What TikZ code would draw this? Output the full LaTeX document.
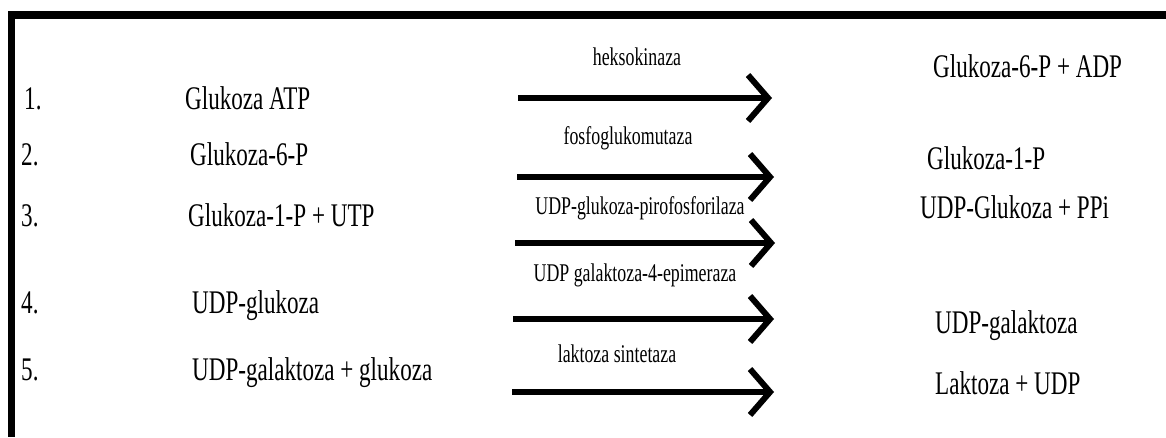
\documentclass[tikz,border=0pt]{standalone}
\usepackage{fontspec}
\setmainfont[FakeStretch=0.7]{Liberation Serif}
\usetikzlibrary{arrows.meta}
\tikzset{
  main/.style={inner sep=0pt, anchor=base west, font=\fontsize{33}{36}\selectfont},
  num/.style={inner sep=0pt, anchor=base west, font=\fontsize{33}{36}\selectfont},
  enz/.style={inner sep=0pt, anchor=base, font=\fontsize{25.5}{28}\selectfont},
  rxn/.style={line width=6pt, -{Straight Barb[length=20pt,width=46pt,line width=6pt]}},
}
\begin{document}
\begin{tikzpicture}[x=1pt,y=-1pt]
\useasboundingbox (0,0) rectangle (1166,437);
\fill (8,11) rectangle (1166,19);
\fill (8,11) rectangle (15,437);
% row 1
\node[num]  (n1) at (24,109) {1.};
\node[main] (r1) at (185,109) {Glukoza ATP};
\node[enz]  (e1) at (637,65) {heksokinaza};
\node[main] (p1) at (933,77) {Glukoza-6-P + ADP};
\coordinate (s1) at (518,98);
\coordinate (t1) at (772,98);
\draw[rxn] (s1) -- (t1);
% row 2
\node[num]  (n2) at (21,165) {2.};
\node[main] (r2) at (190,165) {Glukoza-6-P};
\node[enz]  (e2) at (628,144) {fosfoglukomutaza};
\node[main] (p2) at (927,169) {Glukoza-1-P};
\coordinate (s2) at (517,177);
\coordinate (t2) at (774,177);
\draw[rxn] (s2) -- (t2);
% row 3
\node[num]  (n3) at (21,226) {3.};
\node[main] (r3) at (188,226) {Glukoza-1-P + UTP};
\node[enz]  (e3) at (640,214) {UDP-glukoza-pirofosforilaza};
\node[main] (p3) at (920,218) {UDP-Glukoza + PPi};
\coordinate (s3) at (515,243);
\coordinate (t3) at (775,243);
\draw[rxn] (s3) -- (t3);
% row 4
\node[num]  (n4) at (21,313) {4.};
\node[main] (r4) at (192,313) {UDP-glukoza};
\node[enz]  (e4) at (635,281) {UDP galaktoza-4-epimeraza};
\node[main] (p4) at (935,333) {UDP-galaktoza};
\coordinate (s4) at (513,319);
\coordinate (t4) at (774,319);
\draw[rxn] (s4) -- (t4);
% row 5
\node[num]  (n5) at (21,380) {5.};
\node[main] (r5) at (192,380) {UDP-galaktoza + glukoza};
\node[enz]  (e5) at (617,362) {laktoza sintetaza};
\node[main] (p5) at (935,394) {Laktoza + UDP};
\coordinate (s5) at (512,392);
\coordinate (t5) at (774,392);
\draw[rxn] (s5) -- (t5);
\end{tikzpicture}
\end{document}
